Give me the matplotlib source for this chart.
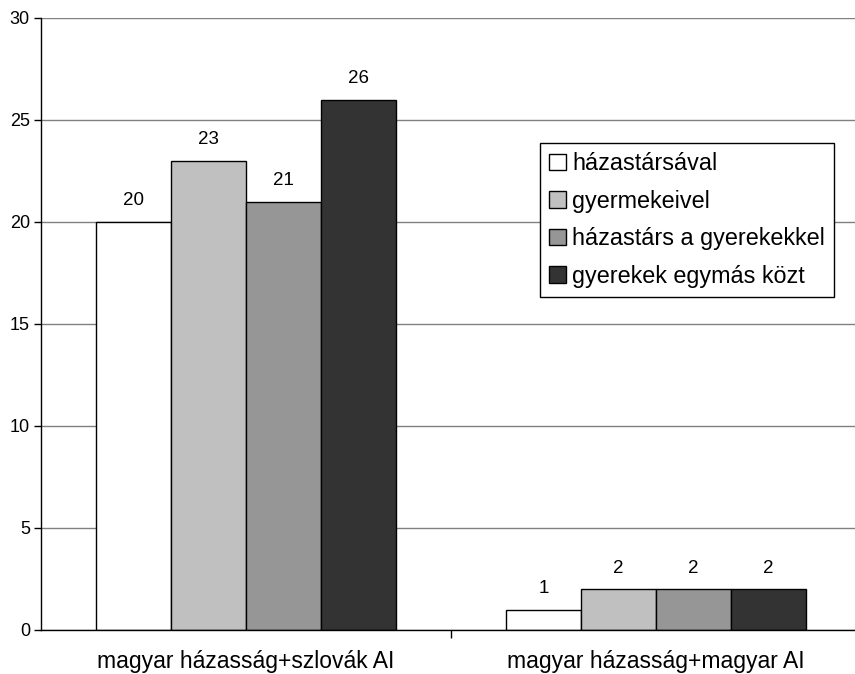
import numpy as np
from matplotlib import pyplot as plt

plt.rcParams["font.family"] = ["Liberation Sans", "DejaVu Sans"]

# --- Data ---
categories = ["magyar házasság+szlovák AI", "magyar házasság+magyar AI"]
series_names = [
    "házastársával",
    "gyermekeivel",
    "házastárs a gyerekekkel",
    "gyerekek egymás közt",
]
values = [
    [20, 1],
    [23, 2],
    [21, 2],
    [26, 2],
]
colors = ["#ffffff", "#c0c0c0", "#969696", "#333333"]

W, H = 855, 674
fig = plt.figure(figsize=(W / 100, H / 100), dpi=100)
ax = fig.add_axes([41 / W, 1 - 630 / H, (861 - 41) / W, (630 - 18) / H])

x = np.arange(len(categories))
bar_w = 0.183
for i, (name, vals, col) in enumerate(zip(series_names, values, colors)):
    pos = x + (i - 1.5) * bar_w
    bars = ax.bar(pos, vals, width=bar_w, color=col, edgecolor="black",
                  linewidth=1.0, label=name, zorder=3)
    for b, v in zip(bars, vals):
        ax.text(b.get_x() + b.get_width() / 2, v + 0.62, str(v),
                ha="center", va="bottom", fontsize=13.5, zorder=4)

ax.set_xlim(-0.5, 1.5)
ax.set_ylim(0, 30)
ax.set_yticks(range(0, 31, 5))
ax.tick_params(axis="y", direction="out", length=5, width=1, labelsize=13, pad=3)

# category labels centred, boundary ticks on the axis
ax.set_xticks([0.5, 1.5])
ax.set_xticklabels([])
ax.tick_params(axis="x", direction="out", length=6, width=1)
for xi, cat in zip(x, categories):
    ax.text(xi, -0.032, cat, transform=ax.get_xaxis_transform(),
            ha="center", va="top", fontsize=16.5)

ax.grid(axis="y", color="#808080", linewidth=1.0, zorder=0)
for side in ["top", "right"]:
    ax.spines[side].set_visible(False)
ax.spines["left"].set_linewidth(1.0)
ax.spines["bottom"].set_linewidth(1.0)
ax.spines["bottom"].set_zorder(5)

leg = ax.legend(loc="upper left", bbox_to_anchor=(540 / W, 1 - 143 / H),
                bbox_transform=fig.transFigure, fontsize=16.8, frameon=True,
                fancybox=False, edgecolor="black", framealpha=1,
                handlelength=0.72, handleheight=0.72, handletextpad=0.25,
                labelspacing=0.62, borderpad=0.4, borderaxespad=0)
leg.get_frame().set_linewidth(1.0)
leg.set_zorder(6)

fig.savefig("out.png", dpi=100)
